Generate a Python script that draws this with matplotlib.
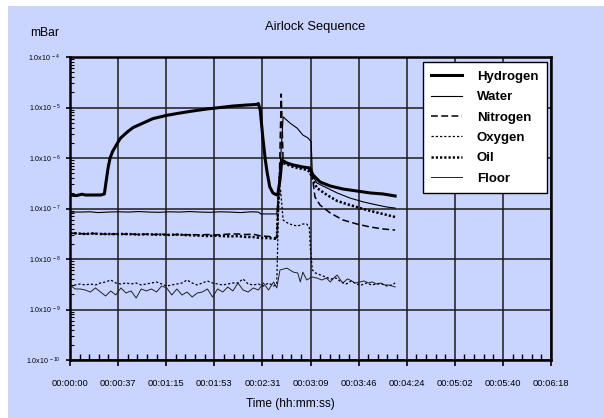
"""
Airlock sequence: partial pressures (mBar) vs elapsed time, log scale.
"""
import numpy as np
import matplotlib
matplotlib.use('Agg')
import matplotlib.pyplot as plt
from matplotlib.ticker import FixedLocator, FuncFormatter, LogLocator, NullFormatter, MultipleLocator
from matplotlib.patches import Rectangle

plt.rcParams['font.family'] = ['Liberation Sans', 'DejaVu Sans']
plt.rcParams['mathtext.fontset'] = 'custom'
plt.rcParams['mathtext.rm'] = 'Liberation Sans'
plt.rcParams['mathtext.default'] = 'regular'

BG = '#CAD5FF'

# time in seconds, pressure in mBar
hydrogen_t = [0, 5, 9.5, 12, 16, 20, 24, 27, 28.5, 30, 31.5, 33.5, 35.5, 39.5, 45, 49.5, 57.5, 65,
              76, 86.5, 96.5, 107.5, 118, 128, 139, 147, 148, 149.5, 151.5, 153.5, 155, 157,
              159.5, 162.5, 163.5, 165, 166.5, 167.5, 170.5, 175.5, 183, 188.5, 191, 196.5,
              204.5, 214.5, 225.5, 236, 246, 255.5]
hydrogen_p = [1.85e-7, 1.8e-7, 1.92e-7, 1.85e-7, 1.85e-7, 1.85e-7, 1.85e-7, 1.94e-7,
              3.6e-7, 6.5e-7, 1.0e-6, 1.35e-6, 1.65e-6, 2.45e-6, 3.27e-6, 4.0e-6, 4.93e-6, 6.0e-6,
              7.0e-6, 7.78e-6, 8.53e-6, 9.34e-6, 1.0e-5, 1.07e-5, 1.12e-5, 1.15e-5,
              1.2e-5, 8.9e-6, 2.6e-6, 9.1e-7, 5.05e-7, 2.67e-7, 2.03e-7, 1.85e-7,
              2.03e-7, 3.66e-7, 9.1e-7, 8.8e-7, 7.96e-7, 7.26e-7, 6.63e-7, 6.34e-7,
              4.61e-7, 3.35e-7, 2.79e-7, 2.43e-7, 2.22e-7, 2.03e-7, 1.94e-7, 1.77e-7]

water_t = [0, 8, 16, 22, 30, 38, 46, 54, 62, 70, 78, 86, 94, 102, 110, 118, 126, 134, 142, 148,
           150, 162.5, 164.5, 167.5, 173, 178.5, 183, 187, 189.5, 190.5, 194, 202, 210, 220,
           230.5, 241.5, 249, 255.5]
water_p = [8.5e-8, 8.5e-8, 8.6e-8, 8.3e-8, 8.5e-8, 8.6e-8, 8.5e-8, 8.7e-8, 8.5e-8, 8.4e-8,
           8.6e-8, 8.5e-8, 8.7e-8, 8.5e-8, 8.4e-8, 8.6e-8, 8.5e-8, 8.3e-8, 8.6e-8, 8.5e-8,
           7.8e-8, 7.8e-8, 3.7e-7, 6.5e-6, 4.9e-6, 3.9e-6, 2.85e-6, 2.5e-6, 2.1e-6, 4.6e-7,
           3.2e-7, 2.55e-7, 2.03e-7, 1.61e-7, 1.35e-7, 1.17e-7, 1.07e-7, 1.02e-7]

nitrogen_t = [0, 6, 12, 18, 24, 30, 36, 42, 48, 54, 60, 66, 72, 78, 84, 90, 96, 102, 108, 114,
              120, 126, 132, 138, 144, 150, 156, 162.5, 164.5, 166, 167.5, 171, 175.5, 183, 187,
              190.5, 192.5, 196.5, 204.5, 214.5, 225.5, 236, 246, 255.5]
nitrogen_p = [3.27e-8, 3.2e-8, 3.13e-8, 3.2e-8, 3.13e-8, 3.1e-8, 3.13e-8, 3.1e-8, 3.13e-8, 3.05e-8,
              3.1e-8, 3.05e-8, 3.1e-8, 3.0e-8, 3.05e-8, 3.0e-8, 3.05e-8, 2.99e-8, 3.05e-8, 2.99e-8,
              3.05e-8, 3.13e-8, 3.13e-8, 3.05e-8, 3.1e-8, 2.85e-8, 2.8e-8, 2.6e-8,
              3.66e-7, 1.85e-5, 8.3e-7, 7.96e-7, 7.26e-7, 6.63e-7, 6.34e-7, 4.2e-7, 1.69e-7,
              1.17e-7, 8.15e-8, 5.92e-8, 4.93e-8, 4.3e-8, 3.93e-8, 3.75e-8]

oxygen_t = [0, 4, 8, 12, 16, 20, 24, 28, 32, 36, 40, 44, 48, 52, 56, 60, 64, 68, 72, 76, 80,
            84, 88, 92, 96, 100, 104, 108, 112, 116, 120, 124, 128, 132, 136, 140, 144, 148,
            152, 156, 160, 162.5, 164, 165.5, 167.5, 171, 175, 179, 183, 186, 188, 189, 190.5,
            193, 197, 201, 205, 209, 213, 217, 221, 225, 229, 233, 237, 241, 245, 249, 253, 255.5]
oxygen_p = [2.92e-9, 3.06e-9, 3.2e-9, 3.06e-9, 3.2e-9, 3.06e-9, 3.35e-9, 3.51e-9, 3.84e-9, 3.35e-9,
            3.2e-9, 3.35e-9, 3.2e-9, 3.35e-9, 3.06e-9, 3.2e-9, 3.35e-9, 3.51e-9, 3.2e-9, 2.92e-9,
            3.06e-9, 3.2e-9, 3.35e-9, 3.84e-9, 3.35e-9, 3.06e-9, 3.35e-9, 3.67e-9, 3.35e-9, 3.2e-9,
            3.06e-9, 3.2e-9, 3.35e-9, 3.35e-9, 4.03e-9, 3.2e-9, 3.06e-9, 3.2e-9, 2.92e-9, 3.35e-9,
            2.92e-9,
            3.2e-9, 1.5e-7, 2.3e-7, 5.9e-8, 5.16e-8, 4.7e-8, 4.5e-8, 4.93e-8, 4.93e-8, 4.3e-8,
            1.5e-8, 6.05e-9, 5.28e-9, 4.8e-9, 4.4e-9, 4.0e-9, 4.2e-9, 3.5e-9, 3.2e-9, 3.67e-9,
            3.2e-9, 3.06e-9, 3.35e-9, 3.06e-9, 3.2e-9, 3.2e-9, 2.92e-9, 3.06e-9, 3.35e-9]

oil_t = [0, 6, 12, 18, 24, 30, 36, 42, 48, 54, 60, 66, 72, 78, 84, 90, 96, 102, 108, 114,
         120, 126, 132, 138, 144, 150, 156, 162.5, 164, 165.5, 167.5, 175.5, 186.5, 188.5, 191,
         194, 202, 210, 220, 233.5, 246, 255.5]
oil_p = [3.27e-8, 3.2e-8, 3.13e-8, 3.2e-8, 3.13e-8, 3.13e-8, 3.1e-8, 3.13e-8, 3.1e-8, 3.05e-8,
         3.1e-8, 3.05e-8, 3.05e-8, 3.0e-8, 3.05e-8, 2.99e-8, 2.95e-8, 2.9e-8, 2.85e-8, 2.9e-8,
         2.85e-8, 2.8e-8, 2.85e-8, 2.73e-8, 2.73e-8, 2.6e-8, 2.6e-8, 2.5e-8,
         2.0e-7, 7.26e-7, 7.96e-7, 6.63e-7, 5.78e-7, 5.28e-7, 3.66e-7, 2.55e-7, 1.85e-7,
         1.41e-7, 1.17e-7, 9.3e-8, 7.78e-8, 6.79e-8]

floor_t = [0, 4, 8, 12, 16, 20, 24, 28, 32, 36, 40, 44, 48, 52, 56, 60, 64, 68, 72, 76, 80,
           84, 88, 92, 96, 100, 104, 108, 112, 116, 120, 124, 128, 132, 136, 140, 144, 148,
           152, 156, 160, 162.5, 165, 167.5, 170.5, 175.5, 179, 181, 183, 186, 190, 194, 198,
           201.5, 204.5, 208, 210, 212.5, 214.5, 218, 220, 224, 228, 231, 234.5, 237.5, 241,
           244, 247.5, 250.5, 253, 255.5]
floor_p = [3.06e-9, 2.55e-9, 2.55e-9, 2.43e-9, 2.22e-9, 2.67e-9, 2.22e-9, 1.85e-9, 2.33e-9, 1.94e-9,
           2.67e-9, 2.12e-9, 2.33e-9, 1.69e-9, 2.55e-9, 2.33e-9, 2.55e-9, 2.22e-9, 2.92e-9, 2.67e-9,
           1.94e-9, 2.55e-9, 1.94e-9, 2.22e-9, 1.77e-9, 2.12e-9, 2.22e-9, 2.55e-9, 1.77e-9, 2.55e-9,
           2.22e-9, 2.79e-9, 2.33e-9, 3.35e-9, 2.43e-9, 2.22e-9, 2.67e-9, 2.43e-9, 3.35e-9, 2.43e-9,
           3.51e-9,
           2.67e-9, 6.05e-9, 6.3e-9, 6.6e-9, 5.5e-9, 5.28e-9, 3.51e-9, 5.5e-9, 3.84e-9, 4.4e-9,
           4.2e-9, 3.84e-9, 4.2e-9, 3.51e-9, 4.4e-9, 4.8e-9, 3.84e-9, 3.35e-9, 4.03e-9, 3.84e-9,
           3.35e-9, 3.51e-9, 3.67e-9, 3.35e-9, 3.51e-9, 3.2e-9, 3.35e-9, 3.06e-9, 3.06e-9, 2.92e-9,
           2.79e-9]

tick_seconds = [0, 37.8, 75.6, 113.4, 151.2, 189.0, 226.8, 264.6, 302.4, 340.2, 378.0]
decades = [-10, -9, -8, -7, -6, -5, -4]


def hms(t, pos=None):
    s = int(round(t, 3))
    return f'{s // 3600:02d}:{(s % 3600) // 60:02d}:{s % 60:02d}'


def sci(v, pos=None):
    e = int(round(np.log10(v)))
    return f'1.0x10$^{{\\,{e}}}$'


fig = plt.figure(figsize=(6.04, 4.18), dpi=100)
fig.patches.append(Rectangle((8 / 604, 0), 1, 1 - 6 / 418, transform=fig.transFigure,
                             facecolor=BG, edgecolor='none', zorder=-10))
ax = fig.add_axes([70 / 604, 1 - 360 / 418, 481 / 604, 303 / 418])
ax.set_facecolor(BG)

ax.plot(floor_t, floor_p, color='#222222', lw=0.7, label='Floor', zorder=3)
ax.plot(oxygen_t, oxygen_p, color='black', lw=0.9, dashes=(1.8, 1.6), label='Oxygen', zorder=3)
ax.plot(nitrogen_t, nitrogen_p, color='black', lw=1.1, dashes=(4.5, 2.2), label='Nitrogen', zorder=3)
ax.plot(oil_t, oil_p, color='black', lw=1.8, dashes=(0.9, 0.8), label='Oil', zorder=3)
ax.plot(water_t, water_p, color='black', lw=0.8, label='Water', zorder=4)
ax.plot(hydrogen_t, hydrogen_p, color='black', lw=2.2, label='Hydrogen', zorder=5)

ax.set_yscale('log')
ax.set_xlim(0, 378)
ax.set_ylim(1e-10, 1e-4)

ax.xaxis.set_major_locator(FixedLocator(tick_seconds))
ax.xaxis.set_minor_locator(MultipleLocator(37.8 / 5))
ax.xaxis.set_major_formatter(FuncFormatter(hms))
ax.yaxis.set_major_locator(FixedLocator([10.0 ** d for d in decades]))
ax.yaxis.set_minor_locator(LogLocator(base=10, subs=np.arange(2, 10), numticks=50))
ax.yaxis.set_major_formatter(FuncFormatter(sci))
ax.yaxis.set_minor_formatter(NullFormatter())

ax.tick_params(axis='x', which='major', direction='out', length=4, width=1.2, pad=10, labelsize=6.7)
ax.tick_params(axis='x', which='minor', direction='in', length=4, width=1)
ax.tick_params(axis='y', which='major', direction='out', length=3, width=1.2, pad=4, labelsize=5.1)
ax.tick_params(axis='y', which='minor', direction='in', length=3, width=0.8)

ax.grid(True, which='major', color='#1a1a1a', lw=1.1)
ax.set_axisbelow(True)
for sp in ax.spines.values():
    sp.set_linewidth(1.8)

handles, labels = ax.get_legend_handles_labels()
order = ['Hydrogen', 'Water', 'Nitrogen', 'Oxygen', 'Oil', 'Floor']
hl = dict(zip(labels, handles))
leg = ax.legend([hl[k] for k in order], order, loc='upper right',
                bbox_to_anchor=(547 / 604, 1 - 62 / 418), bbox_transform=fig.transFigure,
                prop={'weight': 'bold', 'size': 9.5}, frameon=True, fancybox=False,
                edgecolor='black', framealpha=1, borderaxespad=0, handlelength=2.3,
                handletextpad=1.15, labelspacing=0.62, borderpad=0.65)
leg.get_frame().set_linewidth(1.0)

fig.text(315 / 604, 1 - 27 / 418, 'Airlock Sequence', ha='center', va='center', fontsize=9.3)
fig.text(45 / 604, 1 - 33 / 418, 'mBar', ha='center', va='center', fontsize=8.7)
fig.text(290 / 604, 1 - 404 / 418, 'Time (hh:mm:ss)', ha='center', va='center', fontsize=8.6)

fig.savefig('out.png', dpi=100, facecolor='white')
